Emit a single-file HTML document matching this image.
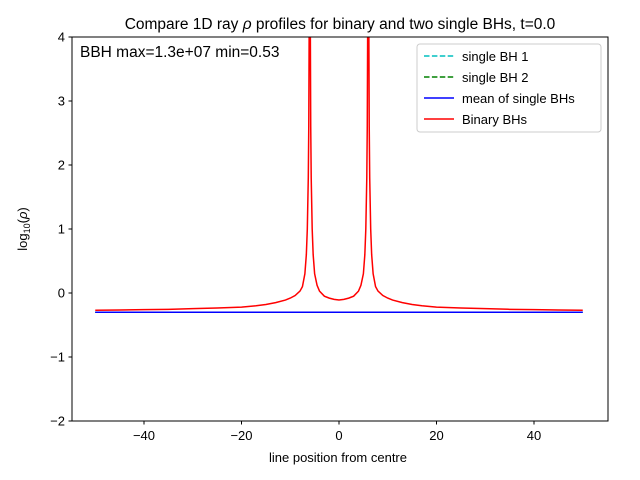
<!DOCTYPE html>
<html><head><meta charset="utf-8"><style>
body{margin:0;background:#fff}
svg{display:block;font-family:"Liberation Sans","DejaVu Sans",sans-serif}
</style></head><body>
<svg id="chart" width="640" height="480">
<defs><clipPath id="clip"><rect x="72" y="37" width="536" height="384"/></clipPath></defs>
<rect x="0" y="0" width="640" height="480" fill="#fff"/>
<text x="340" y="29" font-size="15.5" text-anchor="middle">Compare 1D ray <tspan font-style="italic">ρ</tspan> profiles for binary and two single BHs, t=0.0</text>
<g id="axes"></g>
<g id="series" clip-path="url(#clip)"></g>
<rect x="72" y="37" width="536" height="384" fill="none" stroke="#000" stroke-width="1"/>
<text x="80" y="57" font-size="15.5">BBH max=1.3e+07 min=0.53</text>
<g>
<rect x="417" y="44" width="184" height="88" rx="3" fill="#fff" fill-opacity="0.8" stroke="#ccc"/>
<line x1="424" y1="56" x2="454" y2="56" stroke="#00bfbf" stroke-width="1.5" stroke-dasharray="5.5,2.4"/>
<text x="462" y="61" font-size="13">single BH 1</text>
<line x1="424" y1="77" x2="454" y2="77" stroke="#008000" stroke-width="1.5" stroke-dasharray="5.5,2.4"/>
<text x="462" y="82" font-size="13">single BH 2</text>
<line x1="424" y1="98" x2="454" y2="98" stroke="#0000ff" stroke-width="1.5"/>
<text x="462" y="103" font-size="13">mean of single BHs</text>
<line x1="424" y1="119" x2="454" y2="119" stroke="#ff0000" stroke-width="1.5"/>
<text x="462" y="124" font-size="13">Binary BHs</text>
</g>
<text x="338" y="462" font-size="13" text-anchor="middle">line position from centre</text>
<text transform="translate(27,229) rotate(-90)" font-size="13" text-anchor="middle">log<tspan font-size="9" dy="3">10</tspan><tspan dy="-3">(</tspan><tspan font-style="italic">ρ</tspan>)</text>
</svg>
<script>
const xTicks=[-40,-20,0,20,40];
const yTicks=[-2,-1,0,1,2,3,4];
const xs=[-50,-45,-40,-35,-30,-25,-20,-17,-15,-13,-11,-10,-9,-8,-7.5,-7,-6.7,-6.5,-6.3,-6.2,-6.1,-6,-5.9,-5.8,-5.7,-5.5,-5.3,-5,-4.5,-4,-3,-2,-1,0,
1,2,3,4,4.5,5,5.3,5.5,5.7,5.8,5.9,6,6.1,6.2,6.3,6.5,6.7,7,7.5,8,9,10,11,13,15,17,20,25,30,35,40,45,50];
const binary=[-0.27,-0.265,-0.26,-0.255,-0.245,-0.235,-0.22,-0.2,-0.18,-0.15,-0.11,-0.08,-0.04,0.03,0.1,0.3,0.6,1.0,1.8,2.6,4.5,7,4.5,2.6,1.8,1.0,0.6,0.3,0.12,0.03,-0.05,-0.08,-0.1,-0.11,
-0.1,-0.08,-0.05,0.03,0.12,0.3,0.6,1.0,1.8,2.6,4.5,7,4.5,2.6,1.8,1.0,0.6,0.3,0.1,0.03,-0.04,-0.08,-0.11,-0.15,-0.18,-0.2,-0.22,-0.235,-0.245,-0.255,-0.26,-0.265,-0.27];
const meanXs=[-50,50];
const meanVals=[-0.3,-0.3];
const single1=[-0.3,-0.3];
const single2=[-0.3,-0.3];
const X=v=>339+v*4.875, Y=v=>293-v*64;
const NS='http://www.w3.org/2000/svg';
const axes=document.getElementById('axes'), ser=document.getElementById('series');
function mk(tag,attrs,parent){const e=document.createElementNS(NS,tag);for(const k in attrs)e.setAttribute(k,attrs[k]);parent.appendChild(e);return e;}
xTicks.forEach(t=>{
 const l=mk('line',{x1:X(t),x2:X(t),y1:421,y2:424.5,stroke:'#000'},axes);
 
 
 const tx=mk('text',{x:X(t),y:440,'font-size':13,'text-anchor':'middle'},axes);
 tx.textContent=(t<0?'\u2212'+(-t):t);
 
 
});
yTicks.forEach(t=>{
 const l=mk('line',{x1:68.5,x2:72,y1:Y(t),y2:Y(t),stroke:'#000'},axes);
 
 
 const tx=mk('text',{x:65,y:Y(t)+4.5,'font-size':13,'text-anchor':'end'},axes);
 tx.textContent=(t<0?'\u2212'+(-t):t);
 
 
});
function path(xa,ya,color,dash,name){
 const d=xa.map((x,i)=>(i?'L':'M')+X(x).toFixed(2)+','+Y(ya[i]).toFixed(2)).join('');
 const p=mk('path',{d:d,fill:'none',stroke:color,'stroke-width':1.5},ser);
 if(dash)p.setAttribute('stroke-dasharray',dash);
 
 
}
path(meanXs,single1,'#00bfbf','5.5,2.4','single-bh-1-line');
path(meanXs,single2,'#008000','5.5,2.4','single-bh-2-line');
path(meanXs,meanVals,'#0000ff',null,'mean-single-bh-line');
path(xs,binary,'#ff0000',null,'binary-bh-line');
</script>
</body></html>
